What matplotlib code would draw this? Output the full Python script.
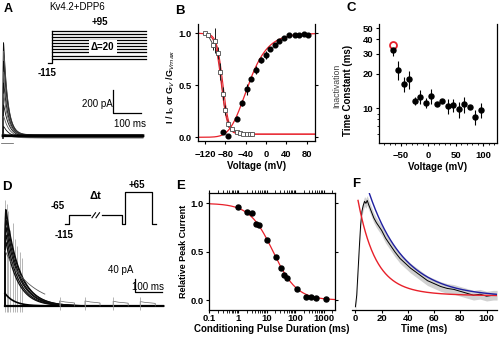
import numpy as np
import matplotlib
matplotlib.use("Agg")
import matplotlib.pyplot as plt
from matplotlib.ticker import FixedLocator, NullFormatter

plt.rcParams['font.family'] = ['Liberation Sans', 'DejaVu Sans']
plt.rcParams['font.size'] = 6.5
plt.rcParams['axes.linewidth'] = 0.9
plt.rcParams['xtick.major.width'] = 0.8
plt.rcParams['ytick.major.width'] = 0.8
plt.rcParams['xtick.major.size'] = 2.5
plt.rcParams['ytick.major.size'] = 2.5
plt.rcParams['xtick.minor.size'] = 1.5
plt.rcParams['ytick.minor.size'] = 1.5

W, H = 500, 338
fig = plt.figure(figsize=(5.0, 3.38), dpi=100)


def ax_at(l, t, r, b):
    return fig.add_axes([l / W, 1 - b / H, (r - l) / W, (b - t) / H])


def ftext(x, y, s, **kw):
    kw.setdefault('ha', 'center')
    kw.setdefault('va', 'center')
    fig.text(x / W, 1 - y / H, s, **kw)


# ---------------- data ----------------
# Panel A: traces (peak pA, decay tau ms, sustained pA)
a_peaks = [950, 860, 760, 650, 540, 430, 320, 210, 110, 40]
a_taus = [15, 15.5, 16, 16.5, 17, 18, 19, 20, 22, 25]
a_sustained = [28, 25, 22, 20, 17, 14, 10, 6, 3, 1]
a_steps_mV = [95, 75, 55, 35, 15, -5, -25, -45, -65, -85]
a_hold_mV = -115

# Panel B: activation (filled) and steady-state inactivation (open)
b_act_v = [-85, -75, -57, -47, -38, -29, -20, -10, -1, 8, 17, 26, 35, 46, 56, 65, 74, 83]
b_act_g = [0.05, 0.01, 0.18, 0.33, 0.46, 0.56, 0.65, 0.74, 0.79, 0.85, 0.89, 0.93, 0.96, 0.98, 0.985, 0.985, 0.99, 0.98]
b_act_err = [0.02, 0.0, 0.02, 0.03, 0.05, 0.02, 0.04, 0.03, 0.04, 0.02, 0.02, 0.01, 0.01, 0.0, 0.0, 0.0, 0.0, 0.0]
b_inact_v = [-120, -114, -104, -100, -94, -90, -85, -81, -74, -66, -58, -51, -45, -38, -32, -27]
b_inact_i = [1.0, 0.98, 0.89, 0.93, 0.81, 0.63, 0.42, 0.26, 0.13, 0.077, 0.054, 0.04, 0.035, 0.03, 0.03, 0.03]
b_inact_err = [0.0, 0.01, 0.05, 0.12, 0.06, 0.08, 0.06, 0.05, 0.03, 0.02, 0.01, 0.0, 0.0, 0.0, 0.0, 0.0]
# fit parameters
b_act_va, b_act_k = -75.0, 24.0
b_inact_vh, b_inact_vh2, b_inact_k, b_inact_c = -88.0, -85.0, 6.0, 0.03

# Panel C: inactivation time constants
c_v = [-65, -55, -45, -35, -25, -15, -5, 5, 15, 25, 35, 45, 55, 65, 75, 85, 95]
c_tau = [32.5, 21.8, 16.3, 17.9, 11.6, 12.6, 11.2, 12.8, 11.0, 11.6, 10.5, 10.6, 9.8, 10.8, 10.3, 8.4, 9.7]
c_err = [4.0, 4.2, 2.4, 3.2, 1.0, 1.8, 1.2, 1.9, 0.4, 0.5, 1.6, 1.4, 1.6, 1.7, 0.4, 1.3, 1.4]
c_red_v, c_red_tau = -65, 35.5

# Panel D: closed-state inactivation traces (peak pA, tau ms)
d_peaks = [330, 315, 295, 270, 245, 220]
d_taus = [50, 50, 48, 48, 46, 45]
d_slow_peak, d_slow_tau = 175, 95
d_small_peak, d_small_tau = 40, 35
d_spike_t = [0, 6, 13, 20, 28, 36, 45, 55, 63]
d_spike_top = [335, 320, 300, 240, 260, 210, 190, 170, 150]
d_bump_t = [200, 293, 396, 495]
d_bump_h = [16, 16, 15, 14]

# Panel E: relative peak current vs conditioning pulse duration
e_t = [1, 2, 3.1, 4.2, 5.4, 10.5, 21, 31, 42, 51, 115, 240, 360, 520, 1150]
e_i = [0.96, 0.91, 0.90, 0.79, 0.78, 0.62, 0.45, 0.33, 0.26, 0.23, 0.11, 0.035, 0.03, 0.024, 0.015]
e_t50, e_n = 17.0, 1.05

# Panel F: normalized currents
f_t = [0, 1, 2, 3, 4, 5, 6, 7, 8, 9, 10, 12, 14, 16, 18, 20, 23, 26, 30, 34, 38, 42, 46, 50, 55, 60,
       65, 70, 75, 80, 85, 90, 95, 100, 105, 108]
f_black = [-0.07, 0.05, 0.3, 0.55, 0.78, 0.92, 0.98, 1.02, 1.0, 1.03, 0.99, 0.92, 0.85, 0.8, 0.76, 0.72,
           0.64, 0.58, 0.5, 0.43, 0.38, 0.33, 0.29, 0.25, 0.2, 0.17, 0.14, 0.12, 0.11, 0.09, 0.07, 0.05,
           0.06, 0.04, 0.05, 0.05]
f_red_amp1, f_red_tau1, f_red_amp2, f_red_tau2, f_red_base, f_red_t0 = 0.90, 13.0, 0.09, 40.0, 0.04, 2.0
f_blue_amp, f_blue_tau, f_blue_base, f_blue_t0 = 1.07, 27.0, 0.03, 10.7

red = '#e8202a'
blue = '#1f1fa0'

# ---------------- Panel A ----------------
axA = ax_at(0, 15, 150, 150)
axA.axis('off')
axA.set_xlim(-10.7, 525)
axA.set_ylim(-104, 1070)
t = np.linspace(0, 500, 1500)
for i, (pk, tau, s) in enumerate(zip(a_peaks, a_taus, a_sustained)):
    rise = 1 - np.exp(-t / 0.6)
    y = rise * (pk * np.exp(-t / tau) + s)
    col = '0.05' if i % 2 == 0 else '0.35'
    axA.plot(t, y, color=col, lw=0.6)
axA.plot(t, np.array(a_sustained[0]) - 8 + 0 * t, color='k', lw=2.0)
axA.plot([-8, 35], [-45, -45], color='0.3', lw=0.5)
# scale bar (200 pA, 100 ms)
axA.plot([392, 392, 492], [420, 220, 220], color='k', lw=0.9)
ftext(113, 104, '200 pA', ha='right', fontsize=7)
ftext(130, 124, '100 ms', fontsize=7)

# protocol inset A
axAp = ax_at(45, 25, 150, 70)
axAp.axis('off')
axAp.set_xlim(0, 100)
axAp.set_ylim(-158, 131.7)
for v in a_steps_mV:
    axAp.plot([6.4, 96.1], [v, v], color='k', lw=0.9)
axAp.plot([2.9, 6.4, 6.4], [a_hold_mV, a_hold_mV, max(a_steps_mV)], color='k', lw=0.9)
axAp.text(55, -10, '\u0394=20', ha='center', va='center', fontsize=7, fontweight='bold',
          bbox=dict(facecolor='white', edgecolor='none', pad=1.5))
ftext(77, 7, 'Kv4.2+DPP6', fontsize=7)
ftext(100, 22, '+95', fontsize=7, fontweight='bold')
ftext(47, 73, '-115', fontsize=7, fontweight='bold')
ftext(8, 9, 'A', fontsize=9, fontweight='bold')

# ---------------- Panel B ----------------
axB = ax_at(197.7, 24, 315, 140.7)
axB.set_xlim(-134.4, 96.3)
axB.set_ylim(-0.033, 1.09)
vv = np.linspace(-134, 96, 400)
g_fit = (1 / (1 + np.exp((b_act_va - vv) / b_act_k))) ** 4
i_fit1 = b_inact_c + (1 - b_inact_c) / (1 + np.exp((vv - b_inact_vh) / b_inact_k))
i_fit2 = b_inact_c + (1 - b_inact_c) / (1 + np.exp((vv - b_inact_vh2) / b_inact_k))
axB.plot(b_inact_v, b_inact_i, color='0.2', lw=0.6)
axB.plot(vv, i_fit1, color=red, lw=0.8)
axB.plot(vv, i_fit2, color=red, lw=0.8)
axB.plot(vv, g_fit, color=red, lw=0.9)
axB.errorbar(b_inact_v, b_inact_i, yerr=b_inact_err, fmt='s', ms=2.6, mfc='white', mec='0.3',
             mew=0.6, ecolor='0.1', elinewidth=0.7, capsize=0)
axB.errorbar(b_act_v, b_act_g, yerr=b_act_err, fmt='o', ms=3.4, color='k', ecolor='k',
             elinewidth=0.8, capsize=0)
axB.set_xticks([-120, -80, -40, 0, 40, 80])
axB.set_yticks([0.0, 0.5, 1.0])
axB.set_yticklabels(['0.0', '0.5', '1.0'])
axB.spines['top'].set_visible(False)
for lab in axB.get_xticklabels() + axB.get_yticklabels():
    lab.set_fontweight('bold')
axB.tick_params(axis='both', labelsize=6.8)
axB.tick_params(axis='x', pad=4)
axB.tick_params(axis='y', pad=2, right=True)
axB.set_xlabel('Voltage (mV)', fontweight='bold', fontsize=7, labelpad=1.5)
ftext(171, 87, 'I / I$_0$ or G$_V$ /G$_{Vmax}$', rotation=90, fontsize=6.5, fontweight='bold')
ftext(180, 11, 'B', fontsize=9.5, fontweight='bold')

# ---------------- Panel C ----------------
axC = ax_at(379.3, 24, 496.7, 142.7)
axC.set_yscale('log')
axC.set_xlim(-89, 124)
axC.set_ylim(5, 54.6)
axC.errorbar(c_v, c_tau, yerr=c_err, fmt='o', ms=3.6, color='k', ecolor='k', elinewidth=0.8, capsize=0)
axC.plot([c_red_v], [c_red_tau], 'o', ms=5, mfc='white', mec=red, mew=1.3)
axC.yaxis.set_major_locator(FixedLocator([10, 20, 30, 40, 50]))
axC.yaxis.set_minor_locator(FixedLocator([6, 7, 8, 9]))
axC.yaxis.set_minor_formatter(NullFormatter())
axC.set_yticklabels(['10', '20', '30', '40', '50'])
axC.set_xticks([-50, 0, 50, 100])
axC.xaxis.set_minor_locator(FixedLocator(list(range(-80, 121, 10))))
axC.spines['top'].set_visible(False)
for lab in axC.get_xticklabels() + axC.get_yticklabels():
    lab.set_fontweight('bold')
axC.tick_params(axis='both', which='both', labelsize=6.8)
axC.tick_params(axis='x', pad=3.5)
axC.tick_params(axis='y', pad=2)
axC.set_xlabel('Voltage (mV)', fontweight='bold', fontsize=7, labelpad=1.5)
ftext(337, 86, 'Inactivation', rotation=90, fontsize=6.3, color='0.25')
ftext(348, 90, 'Time Constant (ms)', rotation=90, fontsize=7, fontweight='bold')
ftext(351, 8, 'C', fontsize=9.5, fontweight='bold')

# ---------------- Panel D ----------------
axD = ax_at(0, 180, 170, 320)
axD.axis('off')
axD.set_xlim(-18, 604)
axD.set_ylim(-44, 397)
axD.vlines(d_spike_t, -20, d_spike_top, color='0.6', lw=0.5)
td = np.linspace(0, 580, 1500)
for pk, tau in zip(d_peaks, d_taus):
    axD.plot(td, pk * np.exp(-td / tau) * (1 - np.exp(-td / 0.8)), color='0.05', lw=0.9)
tslow = np.linspace(0, 146, 300)
axD.plot(tslow, d_slow_peak * np.exp(-tslow / d_slow_tau), color='0.35', lw=0.6)
axD.plot(td, d_small_peak * np.exp(-td / d_small_tau), color='k', lw=1.2)
axD.plot([0, 580], [0, 0], color='k', lw=1.6)
for tb, hb in zip(d_bump_t, d_bump_h):
    axD.plot([tb, tb, tb + 20, tb + 40, tb + 55, tb + 55],
             [0, hb, hb * 0.8, hb * 0.7, hb * 0.6, 0], color='0.4', lw=0.5)
    axD.vlines([tb], -12, hb + 14, color='0.6', lw=0.5)
# scale bar 40 pA / 100 ms
axD.plot([476, 476, 576], [84, 44, 44], color='k', lw=0.9)
ftext(133, 270, '40 pA', ha='right', fontsize=7)
ftext(148, 287, '100 ms', fontsize=7)

# protocol inset D
axDp = ax_at(60, 185, 160, 230)
axDp.axis('off')
axDp.set_xlim(0, 100)
axDp.set_ylim(-148.5, 106)
pro_hold, pro_cond, pro_test = -115, -65, 65
axDp.plot([5, 9, 9, 30], [pro_hold, pro_hold, pro_cond, pro_cond], color='k', lw=0.9)
axDp.plot([41.7, 61.7, 61.7, 62.7, 65, 65, 91.7, 91.7, 96],
          [pro_cond, pro_cond, pro_hold, pro_hold, pro_hold, pro_test, pro_test, pro_hold, pro_hold],
          color='k', lw=0.9)
axDp.plot([32, 35.5], [pro_cond - 14, pro_cond + 14], color='k', lw=0.8)
axDp.plot([36, 39.5], [pro_cond - 14, pro_cond + 14], color='k', lw=0.8)
ftext(58, 206, '-65', fontsize=7, fontweight='bold')
ftext(64, 235, '-115', fontsize=7, fontweight='bold')
ftext(95, 196, '\u0394t', fontsize=8, fontweight='bold')
ftext(137, 185, '+65', fontsize=7, fontweight='bold')
ftext(7, 187, 'D', fontsize=9.5, fontweight='bold')

# ---------------- Panel E ----------------
axE = ax_at(209.3, 192.7, 335, 310)
axE.set_xscale('log')
axE.set_xlim(0.1, 2460)
axE.set_ylim(-0.103, 1.11)
tt = np.logspace(-1, np.log10(2460), 300)
axE.plot(tt, 1 / (1 + (tt / e_t50) ** e_n), color=red, lw=0.9)
axE.plot(e_t, e_i, 'o', ms=3.6, color='k')
axE.set_xticks([0.1, 1, 10, 100, 1000])
axE.set_xticklabels(['0.1', '1', '10', '100', '1000'])
axE.set_yticks([0.0, 0.5, 1.0])
axE.set_yticklabels(['0.0', '0.5', '1.0'])
axE.tick_params(axis='x', which='both', top=True)
axE.tick_params(axis='y', right=True)
for lab in axE.get_xticklabels() + axE.get_yticklabels():
    lab.set_fontweight('bold')
axE.tick_params(axis='both', which='both', labelsize=6.8)
axE.tick_params(axis='x', which='both', pad=0.8, length=2)
axE.tick_params(axis='y', pad=1.5)
axE.set_xlabel('Conditioning Pulse Duration (ms)', fontweight='bold', fontsize=7, labelpad=1)
axE.set_ylabel('Relative Peak Current', fontweight='bold', fontsize=6.5, labelpad=2)
ftext(181, 186, 'E', fontsize=9.5, fontweight='bold')

# ---------------- Panel F ----------------
axF = ax_at(352, 192.7, 496.7, 310)
axF.set_xlim(-2.6, 107.7)
axF.set_ylim(-0.103, 1.11)
tf = np.linspace(f_red_t0, 108, 300)
red_curve = (f_red_base + f_red_amp1 * np.exp(-(tf - f_red_t0) / f_red_tau1)
             + f_red_amp2 * np.exp(-(tf - f_red_t0) / f_red_tau2))
tb_ = np.linspace(f_blue_t0, 108, 300)
blue_curve = f_blue_base + f_blue_amp * np.exp(-(tb_ - f_blue_t0) / f_blue_tau)
fb = np.array(f_black)
axF.fill_between(f_t, fb - 0.05, fb + 0.05, color='0.82', lw=0)
axF.plot(f_t, f_black, color='k', lw=0.7)
axF.plot(tf, red_curve, color=red, lw=1.0)
axF.plot(tb_, blue_curve, color=blue, lw=1.0)
for s in ['left', 'top', 'right']:
    axF.spines[s].set_visible(False)
axF.set_yticks([])
axF.set_xticks([0, 20, 40, 60, 80, 100])
for lab in axF.get_xticklabels():
    lab.set_fontweight('bold')
axF.tick_params(axis='x', pad=0.8, length=2, labelsize=6.8)
axF.set_xlabel('Time (ms)', fontweight='bold', fontsize=7, labelpad=1)
ftext(356, 184, 'F', fontsize=9.5, fontweight='bold')

fig.savefig('out.png', dpi=100)
